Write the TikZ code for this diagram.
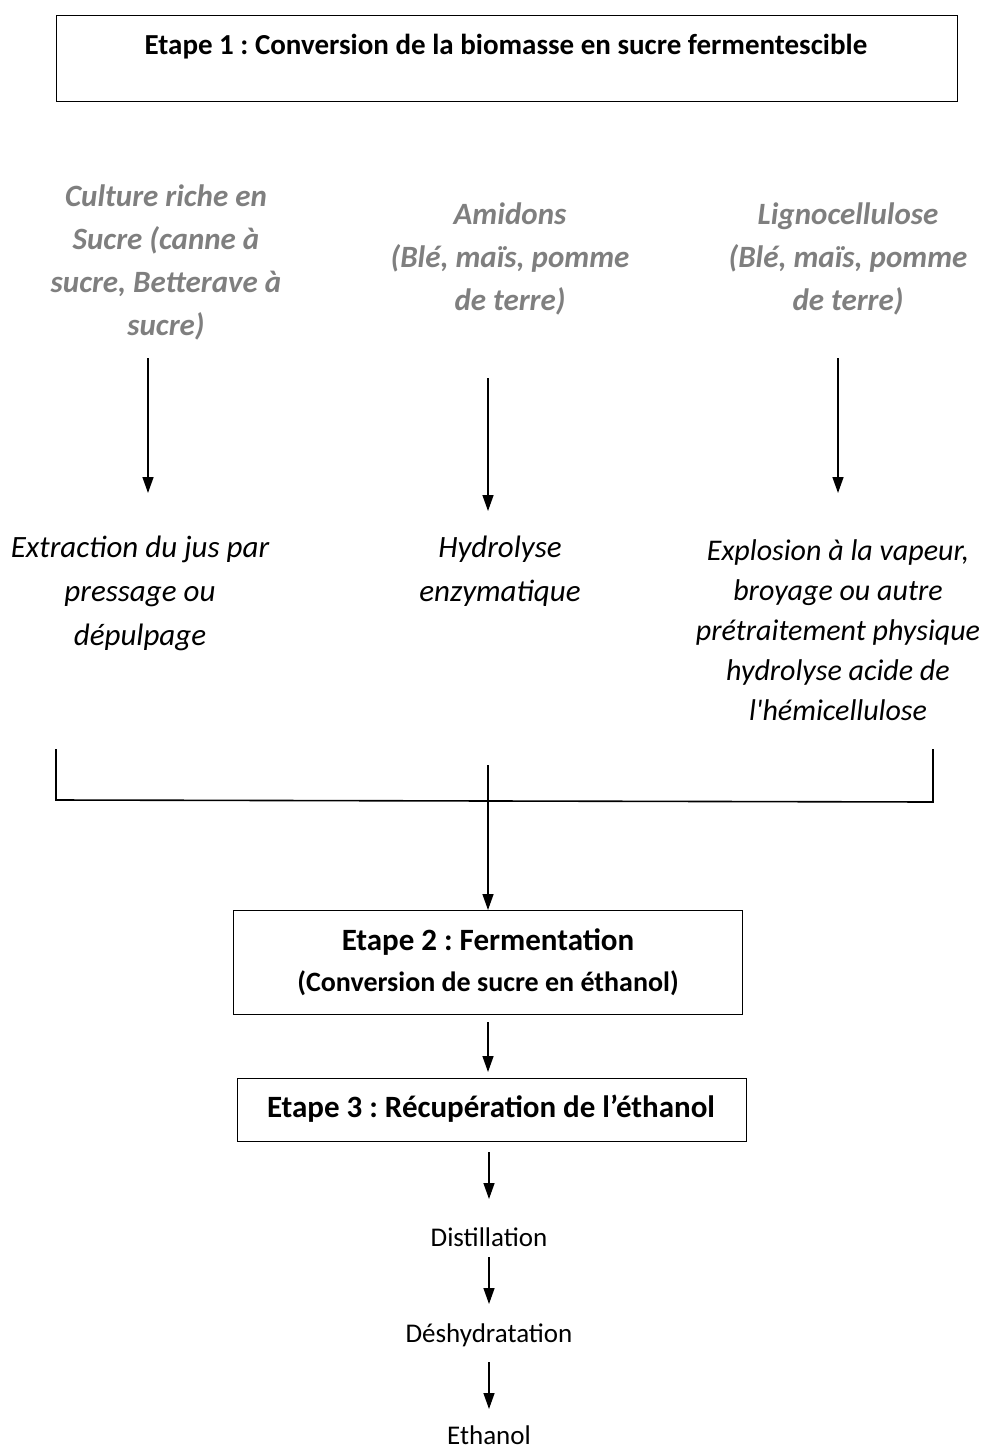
\documentclass[tikz,border=0pt]{standalone}
\usepackage{fontspec}
\setmainfont{Carlito}
\usetikzlibrary{arrows.meta}
\definecolor{graytxt}{HTML}{7F7F7F}
\frenchspacing
\begin{document}
\begin{tikzpicture}[x=1pt,y=-1pt,
  box/.style={draw, line width=1.4pt, inner sep=0},
  arr/.style={-{Triangle[width=11pt,length=16pt]}, line width=1.4pt},
  lin/.style={line width=1.6pt},
  src/.style={font=\fontsize{31}{43}\selectfont\bfseries\itshape, text=graytxt, align=center, inner sep=0},
  proc/.style={font=\fontsize{31}{44}\selectfont\itshape, align=center, inner sep=0},
  proct/.style={font=\fontsize{30}{40}\selectfont\itshape, align=center, inner sep=0},
  ttl/.style={font=\fontsize{29}{40}\selectfont\bfseries, align=center, inner sep=0},
  ttlb/.style={font=\fontsize{31}{40}\selectfont\bfseries, align=center, inner sep=0},
  sub/.style={font=\fontsize{28}{34}\selectfont\bfseries, align=center, inner sep=0},
  plain/.style={font=\fontsize{27}{32}\selectfont, inner sep=0}]
\useasboundingbox (0,0) rectangle (982,1455);
% top box
\node[box, anchor=north west, minimum width=901pt, minimum height=86pt] (b1) at (56,15) {};
\node[ttl] (t1) at (506,47) {Etape 1 : Conversion de la biomasse en sucre fermentescible};
% sources
\node[src] (s1) at (166,262) {Culture riche en\\Sucre (canne à\\sucre, Betterave à\\sucre)};
\node[src] (s2) at (510,259) {Amidons\\(Blé, maïs, pomme\\de terre)};
\node[src] (s3) at (848,259) {Lignocellulose\\(Blé, maïs, pomme\\de terre)};
% processes
\node[proc] (p1) at (140,593) {Extraction du jus par\\pressage ou\\dépulpage};
\node[proc] (p2) at (500,571) {Hydrolyse\\enzymatique};
\node[proct] (p3) at (838,630) {Explosion à la vapeur,\\broyage ou autre\\prétraitement physique\\hydrolyse acide de\\l\textquotesingle hémicellulose};
% arrows sources -> processes
\coordinate (a1s) at (148,358);
\coordinate (a1e) at (148,493);
\coordinate (a2s) at (488,378);
\coordinate (a2e) at (488,511);
\coordinate (a3s) at (838,358);
\coordinate (a3e) at (838,493);
\draw[arr] (a1s) -- (a1e);
\draw[arr] (a2s) -- (a2e);
\draw[arr] (a3s) -- (a3e);
% bracket
\coordinate (bl) at (56,749);
\coordinate (blb) at (56,800);
\coordinate (brb) at (933,802);
\coordinate (br) at (933,749);
\draw[lin] (bl) -- (blb) -- (brb) -- (br);
\coordinate (cs) at (488,765);
% box 2
\node[box, anchor=north west, minimum width=509pt, minimum height=104pt] (b2) at (233,910) {};
\node[ttlb] (t2) at (488,942) {Etape 2 : Fermentation};
\node[sub] (t2b) at (488,983) {(Conversion de sucre en éthanol)};
\draw[arr] (cs) -- (b2.north -| cs);
% box 3
\node[box, anchor=north west, minimum width=509pt, minimum height=63pt] (b3) at (237,1078) {};
\node[ttlb] (t3) at (491,1109) {Etape 3 : Récupération de l’éthanol};
\coordinate (a4s) at (488,1022);
\coordinate (a4e) at (488,1072);
\draw[arr] (a4s) -- (a4e);
% final chain
\node[plain] (d1) at (489,1237) {Distillation};
\node[plain] (d2) at (489,1335) {Déshydratation};
\node[plain] (d3) at (489,1435) {Ethanol};
\coordinate (a5s) at (489,1152);
\coordinate (a5e) at (489,1199);
\draw[arr] (a5s) -- (a5e);
\coordinate (a6s) at (489,1257);
\coordinate (a6e) at (489,1304);
\draw[arr] (a6s) -- (a6e);
\coordinate (a7s) at (489,1362);
\coordinate (a7e) at (489,1409);
\draw[arr] (a7s) -- (a7e);
\end{tikzpicture}
\end{document}
